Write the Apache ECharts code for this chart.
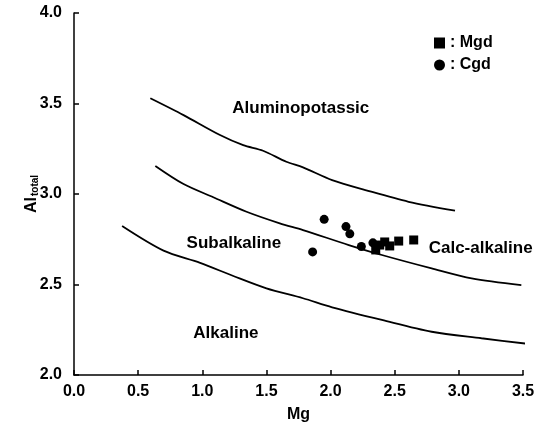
<!DOCTYPE html>
<html><head><meta charset="utf-8">
<script src="https://cdn.jsdelivr.net/npm/echarts@6/dist/echarts.min.js"></script>
<style>html,body{margin:0;padding:0;background:#fff}#c{width:545px;height:428px}</style>
</head><body><div id="c"></div>
<script>
const xTicks = [0.0, 0.5, 1.0, 1.5, 2.0, 2.5, 3.0, 3.5];
const yTicks = [2.0, 2.5, 3.0, 3.5, 4.0];
const upperCurve = [[0.595,3.529],[0.854,3.436],[1.138,3.326],[1.319,3.27],[1.474,3.239],[1.655,3.178],[1.785,3.147],[2.012,3.077],[2.271,3.022],[2.608,2.957],[2.97,2.908]];
const middleCurve = [[0.634,3.155],[0.854,3.055],[1.086,2.982],[1.345,2.902],[1.604,2.838],[1.785,2.801],[2.142,2.718],[2.4,2.663],[2.788,2.589],[3.1,2.534],[3.487,2.497]];
const lowerCurve = [[0.375,2.823],[0.698,2.687],[0.983,2.62],[1.242,2.547],[1.5,2.479],[1.785,2.424],[2.012,2.374],[2.4,2.304],[2.788,2.239],[3.176,2.203],[3.55,2.171]];
const mgd = [[2.352,2.691],[2.422,2.735],[2.461,2.713],[2.531,2.740],[2.648,2.746],[2.383,2.718]];
const cgd = [[1.95,2.86],[2.12,2.82],[2.15,2.78],[1.86,2.68],[2.24,2.71],[2.33,2.73]];
const fieldLabels = [
  {name:'Aluminopotassic', value:[1.768,3.475]},
  {name:'Subalkaline', value:[1.246,2.729]},
  {name:'Calc-alkaline', value:[3.17,2.702]},
  {name:'Alkaline', value:[1.184,2.232]}
];
const F = 'Liberation Sans, Arial, sans-serif';
const chart = echarts.init(document.getElementById('c'));
const lineStyle = {color:'#000', width:1.8};
chart.setOption({
  animation:false,
  grid:{left:74, top:13, right:22, bottom:53},
  legend:{
    orient:'vertical', left:429, top:30, itemWidth:11, itemHeight:11, itemGap:6,
    data:[{name:'Mgd', icon:'rect'},{name:'Cgd', icon:'circle'}],
    formatter: n => ': ' + n,
    textStyle:{fontFamily:F, fontWeight:'bold', fontSize:16, color:'#000'}
  },
  xAxis:{
    type:'value', min:0, max:3.5, interval:0.5,
    name:'Mg', nameLocation:'middle', nameGap:32,
    nameTextStyle:{fontFamily:F, fontWeight:'bold', fontSize:16, color:'#000'},
    axisLine:{lineStyle:{color:'#000', width:1.5}},
    axisTick:{inside:true, length:5, lineStyle:{color:'#000', width:1.5}},
    axisLabel:{fontFamily:F, fontWeight:'bold', fontSize:16, color:'#000', margin:9, formatter:v=>v.toFixed(1)},
    splitLine:{show:false}
  },
  yAxis:{
    type:'value', min:2, max:4, interval:0.5,
    name:'{a|Al}{b|total}', nameLocation:'middle', nameGap:34, nameRotate:90, nameMoveOverlap:false,
    nameTextStyle:{rich:{
      a:{fontFamily:F, fontWeight:'bold', fontSize:16, color:'#000'},
      b:{fontFamily:F, fontWeight:'bold', fontSize:10, color:'#000', verticalAlign:'bottom', padding:[5,0,0,1]}
    }},
    axisLine:{show:true, lineStyle:{color:'#000', width:1.5}},
    axisTick:{show:true, inside:true, length:5, lineStyle:{color:'#000', width:1.5}},
    axisLabel:{fontFamily:F, fontWeight:'bold', fontSize:16, color:'#000', margin:12, formatter:v=>v.toFixed(1)},
    splitLine:{show:false}
  },
  series:[
    {type:'line', data:upperCurve, symbol:'none', smooth:0.3, lineStyle, silent:true},
    {type:'line', data:middleCurve, symbol:'none', smooth:0.3, lineStyle, silent:true},
    {type:'line', data:lowerCurve, symbol:'none', smooth:0.3, lineStyle, silent:true, clip:false},
    {type:'scatter', name:'Cgd', data:cgd, symbol:'circle', symbolSize:9, itemStyle:{color:'#000', opacity:1}},
    {type:'scatter', name:'Mgd', data:mgd, symbol:'rect', symbolSize:9, itemStyle:{color:'#000', opacity:1}},
    {type:'scatter', data:fieldLabels, symbolSize:0, silent:true, itemStyle:{color:'rgba(0,0,0,0)', opacity:1},
      label:{show:true, position:'inside', formatter:p=>p.name, fontFamily:F, fontWeight:'bold', fontSize:17, color:'#000'}}
  ]
});
</script></body></html>
